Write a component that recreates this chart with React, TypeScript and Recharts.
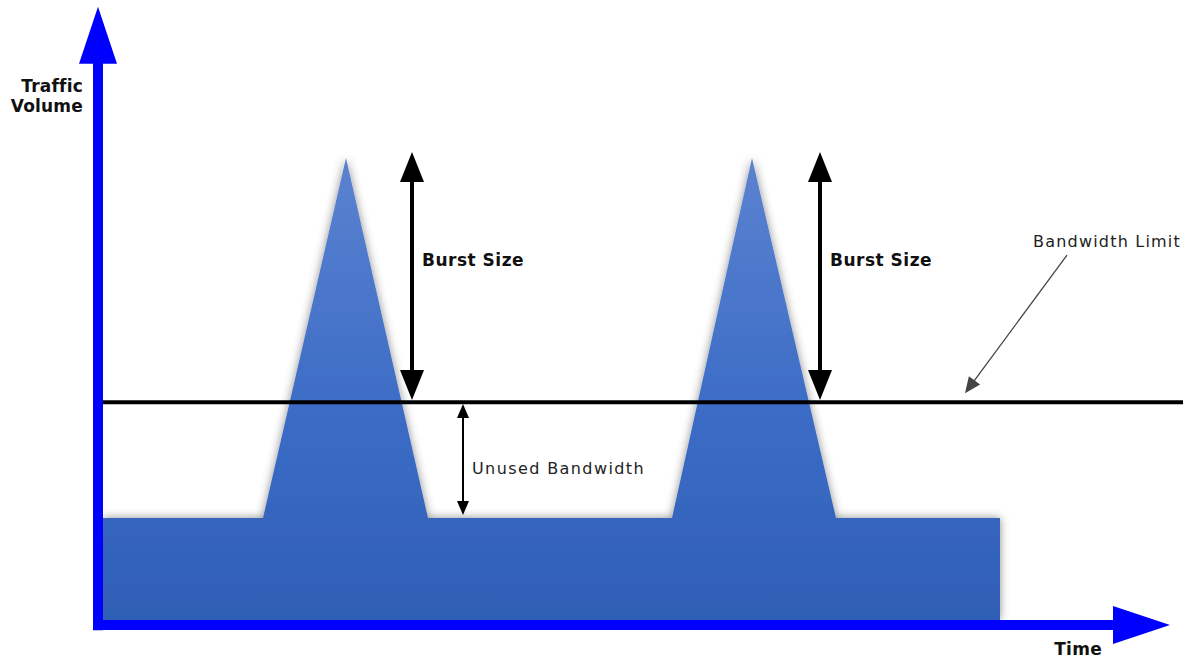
import React from 'react';
import { ComposedChart, Area, XAxis, YAxis, ReferenceLine } from 'recharts';

// traffic profile: time (arbitrary units 0-100) vs volume (0-100)
const timeSteps = [0, 16, 24.3, 32.5, 56.9, 64.9, 73.3, 89.7];
const trafficVolume = [17, 17, 77, 17, 17, 77, 17, 17];

const bandwidthLimit = 36.3;
const burstTimes = [30.9, 71.7];
const burstTop = 78;
const unusedTime = 36;

const axisLabels = ['Traffic', 'Volume'];
const timeLabel = 'Time';
const burstLabel = 'Burst Size';
const unusedLabel = 'Unused Bandwidth';
const limitLabel = 'Bandwidth Limit';

const data = timeSteps.map((t, i) => ({ time: t, volume: trafficVolume[i] }));

const BLUE = '#0000ff';
const FONT = '"DejaVu Sans", Verdana, sans-serif';

type Pt = { x: number; y: number };

// line with an arrow head at the end (and optionally at the start)
const arrow = (a: Pt, b: Pt, color: string, width: number, headLen: number, headHalf: number, both: boolean) => {
  const dx = b.x - a.x;
  const dy = b.y - a.y;
  const len = Math.sqrt(dx * dx + dy * dy) || 1;
  const ux = dx / len;
  const uy = dy / len;
  const nx = -uy;
  const ny = ux;
  const head = (tip: Pt, sx: number, sy: number) => {
    const bx = tip.x - sx * headLen;
    const by = tip.y - sy * headLen;
    return `${tip.x},${tip.y} ${bx + nx * headHalf},${by + ny * headHalf} ${bx - nx * headHalf},${by - ny * headHalf}`;
  };
  const start = both ? { x: a.x + ux * headLen * 0.9, y: a.y + uy * headLen * 0.9 } : a;
  const end = { x: b.x - ux * headLen * 0.9, y: b.y - uy * headLen * 0.9 };
  return (
    <g>
      <line x1={start.x} y1={start.y} x2={end.x} y2={end.y} stroke={color} strokeWidth={width} />
      <polygon points={head(b, ux, uy)} fill={color} />
      {both && <polygon points={head(a, -ux, -uy)} fill={color} />}
    </g>
  );
};

const YAxisArrow = (p: any) => (
  <g>
    {arrow({ x: p.x1, y: p.y1 }, { x: p.x2, y: p.y2 }, BLUE, 10, 57, 19, false)}
    {axisLabels.map((s, i) => (
      <text key={s} x={p.x2 - 15} y={p.y2 + 85 + i * 20} textAnchor="end" fontFamily={FONT}
        fontWeight="bold" fontSize={17} letterSpacing={0.2} fill="#111">{s}</text>
    ))}
  </g>
);

const XAxisArrow = (p: any) => (
  <g>
    {arrow({ x: p.x1, y: p.y1 }, { x: p.x2, y: p.y2 }, BLUE, 10, 57, 19, false)}
    <text x={p.x2 - 68} y={p.y2 + 30} textAnchor="end" fontFamily={FONT} fontWeight="bold"
      fontSize={17} letterSpacing={0.3} fill="#111">{timeLabel}</text>
  </g>
);

const BurstArrow = (p: any) => (
  <g>
    {arrow({ x: p.x1, y: p.y1 }, { x: p.x2, y: p.y2 }, '#000', 4, 30, 12, true)}
    <text x={p.x1 + 10} y={(p.y1 + p.y2) / 2 - 10} fontFamily={FONT} fontWeight="bold"
      fontSize={17} letterSpacing={0.5} fill="#111">{burstLabel}</text>
  </g>
);

const UnusedArrow = (p: any) => (
  <g>
    {arrow({ x: p.x1, y: p.y1 }, { x: p.x2, y: p.y2 }, '#000', 2, 14, 6, true)}
    <text x={p.x1 + 9} y={(p.y1 + p.y2) / 2 + 14} fontFamily={FONT} fontSize={16}
      letterSpacing={1.4} fill="#222">{unusedLabel}</text>
  </g>
);

const LimitPointer = (p: any) => (
  <g>
    {arrow({ x: p.x1, y: p.y1 }, { x: p.x2, y: p.y2 }, '#444', 1.3, 16, 7, false)}
    <text x={p.x1 - 34} y={p.y1 - 8} fontFamily={FONT} fontSize={16} letterSpacing={1.2}
      fill="#222">{limitLabel}</text>
  </g>
);

export default function App() {
  return (
    <div style={{ position: 'absolute', left: 0, top: 0, width: 1183, height: 662, background: '#fff' }}>
      <ComposedChart width={1183} height={662} data={data}
        margin={{ top: 20, right: 80, bottom: 42, left: 103 }}>
        <defs>
          <linearGradient id="trafficFill" x1="0" y1="0" x2="0" y2="1">
            <stop offset="0%" stopColor="#5b82d0" />
            <stop offset="55%" stopColor="#3c6cc6" />
            <stop offset="100%" stopColor="#2f5fb6" />
          </linearGradient>
          <filter id="glow" x="-10%" y="-10%" width="120%" height="120%">
            <feDropShadow dx="0" dy="0" stdDeviation="5" floodColor="#000" floodOpacity="0.45" />
          </filter>
        </defs>
        <XAxis dataKey="time" type="number" domain={[0, 100]} hide allowDataOverflow />
        <YAxis type="number" domain={[0, 100]} hide allowDataOverflow />
        <Area type="linear" dataKey="volume" stroke="none" fill="url(#trafficFill)" fillOpacity={1}
          baseValue={0} isAnimationActive={false} filter="url(#glow)" />
        <ReferenceLine segment={[{ x: 0, y: bandwidthLimit }, { x: 110, y: bandwidthLimit }]}
          stroke="#000" strokeWidth={4} ifOverflow="visible" />
        {burstTimes.map((t) => (
          <ReferenceLine key={t} segment={[{ x: t, y: burstTop }, { x: t, y: bandwidthLimit + 0.35 }]}
            ifOverflow="visible" shape={BurstArrow} />
        ))}
        <ReferenceLine segment={[{ x: unusedTime, y: bandwidthLimit - 0.3 }, { x: unusedTime, y: trafficVolume[0] + 0.5 }]}
          ifOverflow="visible" shape={UnusedArrow} />
        <ReferenceLine segment={[{ x: 96.4, y: 60.8 }, { x: 86.2, y: 37.8 }]}
          ifOverflow="visible" shape={LimitPointer} />
        <ReferenceLine segment={[{ x: -0.5, y: -1.7 }, { x: -0.5, y: 102.2 }]}
          ifOverflow="visible" shape={YAxisArrow} />
        <ReferenceLine segment={[{ x: -1, y: -0.85 }, { x: 106.7, y: -0.85 }]}
          ifOverflow="visible" shape={XAxisArrow} />
      </ComposedChart>
    </div>
  );
}
